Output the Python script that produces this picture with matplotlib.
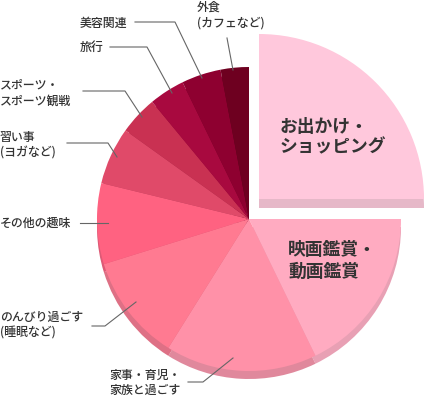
import matplotlib
matplotlib.use("Agg")
import matplotlib.pyplot as plt

plt.rcParams['font.family'] = ['Noto Sans CJK JP', 'DejaVu Sans']

# ---- data ----
categories = ["お出かけ・\nショッピング", "映画鑑賞・\n動画鑑賞", "家事・育児・\n家族と過ごす",
              "のんびり過ごす\n(睡眠など)", "その他の趣味", "習い事\n(ヨガなど)",
              "スポーツ・\nスポーツ観戦", "旅行", "美容関連", "外食\n(カフェなど)"]
values = [25.0, 17.8, 16.1, 11.3, 8.6, 6.1, 4.1, 3.8, 4.2, 3.0]
colors = ["#FFC8DC", "#FFABC1", "#FF91A8", "#FF7A91", "#FF6281",
          "#E04A69", "#C93152", "#A8093F", "#8E0030", "#6E0020"]
rim_colors = ["#E6B8C8", "#E8A0B4", "#E0889C", "#DE7085", "#DD5A76",
              "#C04460", "#AA2C4A", "#900838", "#78002A", "#5C001C"]

W, H = 424, 397
fig = plt.figure(figsize=(W / 100, H / 100), dpi=100)
ax = fig.add_axes([0, 0, 1, 1])

def Y(y):
    return H - y

main_c = (249, Y(219))
main_r = 152
exp_c = (259, Y(199))
exp_r = 165
depth_main = 8
depth_exp = 9

# rim (3D side) pie
rim, _ = ax.pie(values, colors=rim_colors, startangle=90, counterclock=False,
                center=(main_c[0], main_c[1] - depth_main), radius=main_r,
                wedgeprops=dict(linewidth=0))
rim[0].set_center((exp_c[0], exp_c[1] - depth_exp))
rim[0].set_radius(exp_r)

# top face pie
face, _ = ax.pie(values, colors=colors, startangle=90, counterclock=False,
                 center=main_c, radius=main_r,
                 wedgeprops=dict(linewidth=0))
face[0].set_center(exp_c)
face[0].set_radius(exp_r)

ax.set_xlim(0, W)
ax.set_ylim(0, H)
ax.set_aspect('equal')
ax.axis('off')

txt = "#333333"
# inside labels
ax.text(280, Y(137), categories[0], fontsize=12.8, fontweight='bold', color=txt,
        ha='left', va='center', linespacing=1.15)
ax.text(288, Y(261), categories[1], fontsize=12.8, fontweight='bold', color=txt,
        ha='left', va='center', linespacing=1.25)

# outside labels: (x, y_center) in pixels
label_pos = {2: (109, 383), 3: (0, 325), 4: (0, 223), 5: (0, 145),
             6: (0, 93), 7: (80, 47), 8: (80, 23), 9: (197, 15)}
for i, (x, y) in label_pos.items():
    ax.text(x, Y(y), categories[i], fontsize=8.6, color=txt, ha='left',
            va='center', linespacing=1.25, fontweight='medium')

leaders = {
    9: [(227, 38), (233, 70)],
    8: [(135, 22), (175, 22), (202, 78)],
    7: [(110, 47), (147, 47), (172, 93)],
    6: [(83, 91), (125, 91), (142, 117)],
    5: [(67, 143), (108, 143), (117, 157)],
    4: [(80, 223), (108, 223)],
    3: [(92, 326), (105, 326), (136, 302)],
    2: [(188, 382), (203, 382), (233, 358)],
}
for pts in leaders.values():
    ax.plot([p[0] for p in pts], [Y(p[1]) for p in pts], color="#666666", lw=0.8)

fig.savefig("out.png", dpi=100)
